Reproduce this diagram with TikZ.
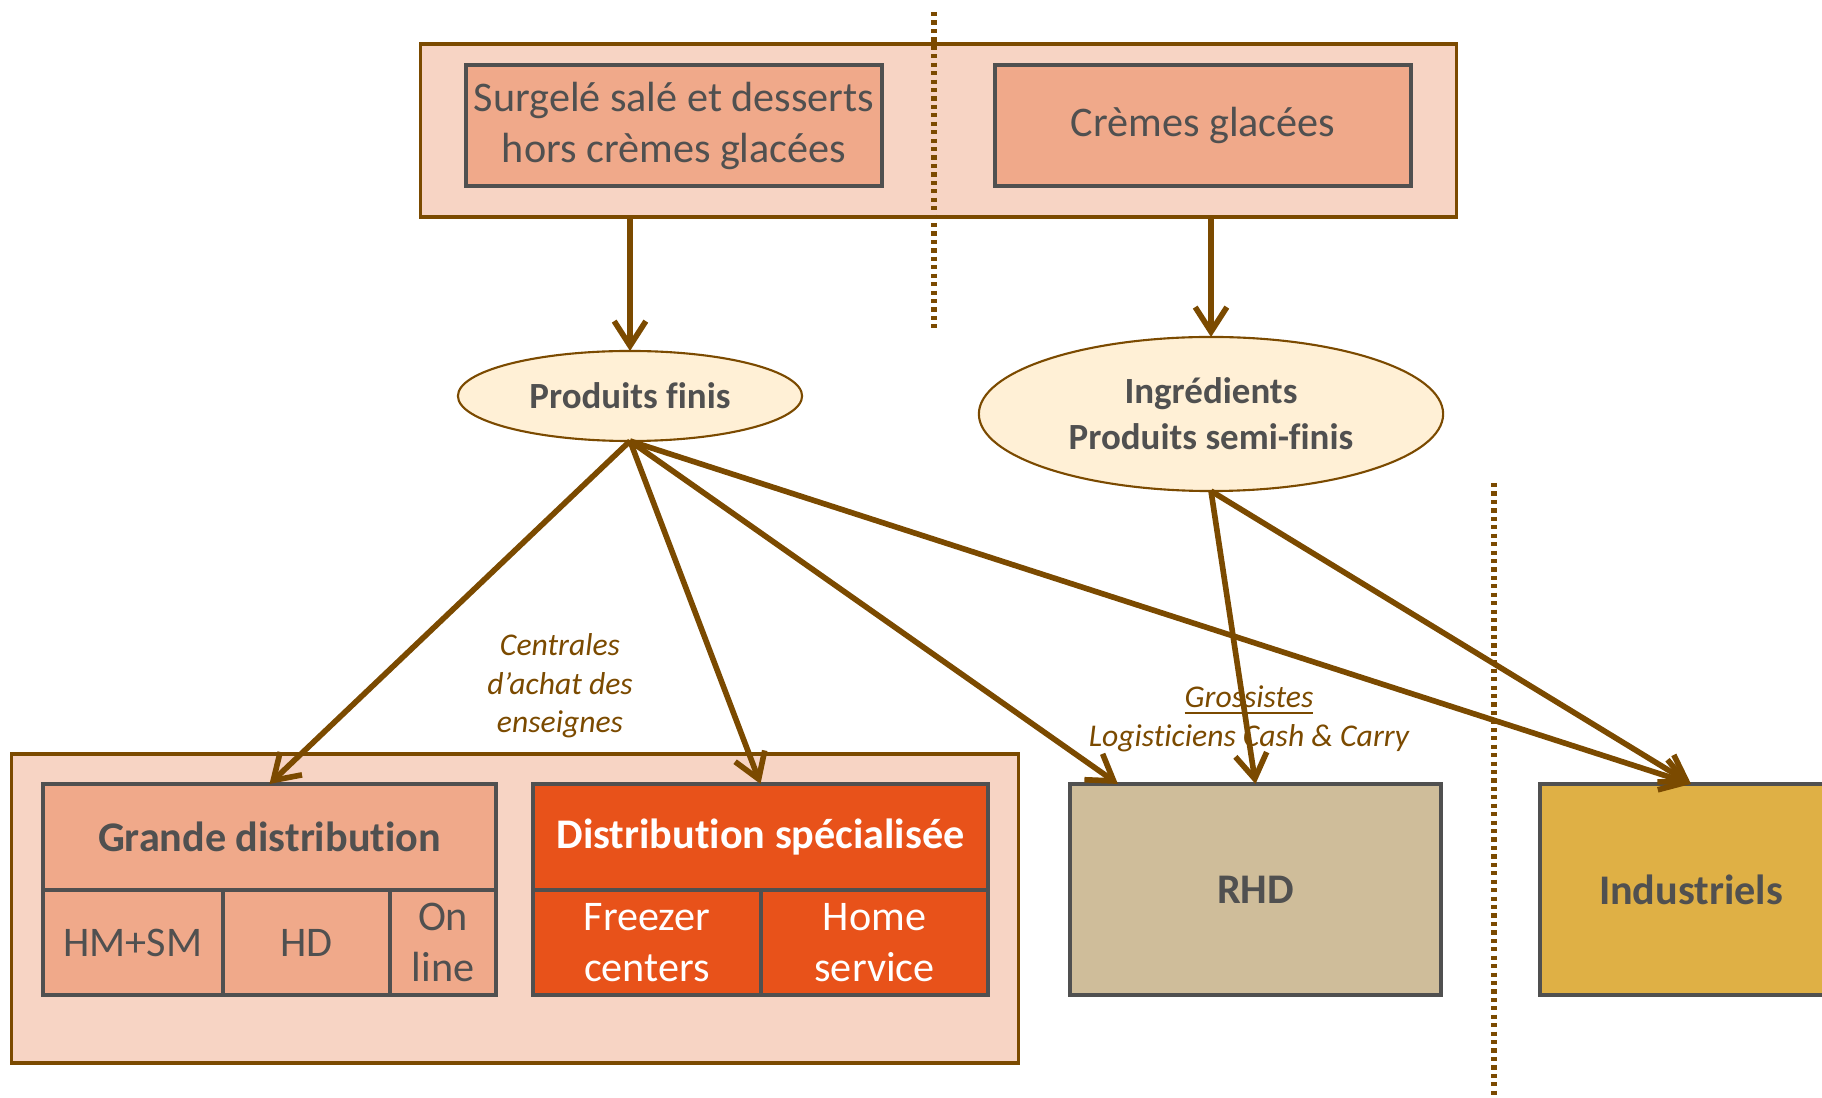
\documentclass[tikz,border=0pt]{standalone}
\usepackage{fontspec}
\setmainfont[Ligatures=NoCommon]{Carlito}
\usepackage{tikz}
\usetikzlibrary{calc, positioning, arrows.meta, shapes.geometric}

\definecolor{brun}{HTML}{7B4A00}
\definecolor{gristxt}{HTML}{505050}
\definecolor{peche}{HTML}{F7D4C4}
\definecolor{saumon}{HTML}{F0A98A}
\definecolor{orange}{HTML}{E8521A}
\definecolor{creme}{HTML}{FFF0D6}
\definecolor{sable}{HTML}{CFBD9A}
\definecolor{moutarde}{HTML}{DFB045}

\begin{document}
\begin{tikzpicture}[
    x=0.01cm, y=-0.01cm,
    every node/.style={text=gristxt, inner sep=0pt, outer sep=0pt, align=center},
    cadre/.style={draw=brun, line width=1pt, fill=peche},
    boite/.style={draw=gristxt, line width=1pt, fill=saumon, font=\fontsize{12}{14.5}\selectfont},
    titre/.style={boite, font=\bfseries\fontsize{12}{14.5}\selectfont},
    bulle/.style={ellipse, draw=brun, line width=0.6pt, fill=creme, font=\bfseries\fontsize{10.5}{13}\selectfont},
    flux/.style={draw=brun, line width=1.6pt, -{Straight Barb[length=7pt, width=9pt, line width=1.6pt]}},
    separ/.style={draw=brun, line width=1.8pt, dash pattern=on 1.2pt off 1.2pt},
    canal/.style={text=brun, font=\itshape\fontsize{9}{11}\selectfont}
  ]
  \useasboundingbox (0,0) rectangle (1822,1098);

  % cadre du haut
  \node[cadre, minimum width=10.35cm, minimum height=1.73cm] (haut) at (938.5,130.5) {};
  \node[boite, minimum width=4.16cm, minimum height=1.21cm] (surgele) at (674,125.5)
    {Surgelé salé et desserts\\hors crèmes glacées};
  \node[boite, minimum width=4.16cm, minimum height=1.21cm] (glaces) at (1203,125.5)
    {Crèmes glacées};

  % produits
  \node[bulle, minimum width=3.44cm, minimum height=0.9cm] (pf) at (630,396) {Produits finis};
  \node[bulle, minimum width=4.64cm, minimum height=1.54cm] (ing) at (1211,414)
    {Ingrédients\\Produits semi-finis};

  % cadre du bas
  \node[cadre, minimum width=10.06cm, minimum height=3.09cm] (bas) at (515,908.5) {};

  \node[titre, minimum width=4.53cm, minimum height=1.06cm] (gd) at (269.5,837) {Grande distribution};
  \node[boite, anchor=north west, minimum width=1.80cm, minimum height=1.05cm] (hmsm) at (gd.south west) {HM+SM};
  \node[boite, anchor=north west, minimum width=1.67cm, minimum height=1.05cm] (hd) at (hmsm.north east) {HD};
  \node[boite, anchor=north west, minimum width=1.06cm, minimum height=1.05cm] (online) at (hd.north east) {On\\line};

  \node[titre, fill=orange, text=white, minimum width=4.55cm, minimum height=1.06cm] (ds) at (760.5,837) {Distribution spécialisée};
  \node[boite, fill=orange, text=white, anchor=north west, minimum width=2.28cm, minimum height=1.05cm] (freezer) at (ds.south west) {Freezer\\centers};
  \node[boite, fill=orange, text=white, anchor=north west, minimum width=2.27cm, minimum height=1.05cm] (home) at (freezer.north east) {Home\\service};

  % autres debouches
  \node[titre, fill=sable, minimum width=3.71cm, minimum height=2.11cm] (rhd) at (1255.5,889.5) {RHD};
  \node[titre, fill=moutarde, minimum width=3.02cm, minimum height=2.11cm] (ind) at (1691,889.5) {Industriels};

  % separations
  \draw[separ] (934,12) -- (934,329);
  \draw[separ] (1494,483) -- (1494,1098);

  % intermediaires
  \node[canal] (centrales) at (560,686) {Centrales\\d’achat des\\enseignes};
  \node[canal] (grossistes) at (1249,719) {\underline{Grossistes}\\Logisticiens Cash \& Carry};

  % flux
  \draw[flux] (haut.south -| pf) -- (pf.north);
  \draw[flux] (haut.south -| ing) -- (ing.north);
  \draw[flux] (pf.south) -- (gd.north);
  \draw[flux] (pf.south) -- (ds.north);
  \draw[flux] (pf.south) -- ($(rhd.north west)+(48,0)$);
  \draw[flux] (pf.south) -- (ind.north);
  \draw[flux] (ing.south) -- (rhd.north);
  \draw[flux] (ing.south) -- (ind.north);
\end{tikzpicture}
\end{document}
